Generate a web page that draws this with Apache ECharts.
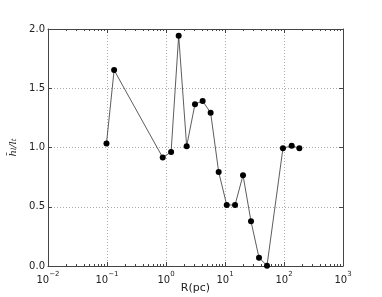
<!DOCTYPE html>
<html>
<head>
<meta charset="utf-8">
<script src="https://cdn.jsdelivr.net/npm/echarts@6/dist/echarts.min.js"></script>
<style>html,body{margin:0;padding:0;background:#fff}#c{width:382px;height:297px}</style>
</head>
<body>
<div id="c"></div>
<script>
// Data
const radiusPc = [0.098, 0.132, 0.88, 1.22, 1.64, 2.24, 3.10, 4.18, 5.71, 7.81, 10.7, 14.8, 20.2, 27.6, 37.7, 51.5, 96, 135, 182];
const ratio    = [1.034, 1.653, 0.915, 0.963, 1.944, 1.011, 1.366, 1.392, 1.293, 0.794, 0.515, 0.515, 0.766, 0.377, 0.070, 0.003, 0.994, 1.014, 0.994];
const xTickExponents = [-2, -1, 0, 1, 2, 3];
const yTicks = [0.0, 0.5, 1.0, 1.5, 2.0];
const xLabel = 'R(pc)';

// minor tick positions on log axis (2..9 within each decade)
const minorTicks = [];
for (let e = -2; e < 3; e++) for (let m = 2; m <= 9; m++) minorTicks.push(m * Math.pow(10, e));

const FONT = 'DejaVu Sans';
const frameColor = '#444';
const chart = echarts.init(document.getElementById('c'), null, {renderer: 'canvas'});

function supLabel(v) {
  const e = Math.round(Math.log10(v));
  const s = e < 0 ? '\u2212' + (-e) : String(e);
  return '{b|10}{s|' + s + '}';
}

chart.setOption({
  animation: false,
  backgroundColor: '#fff',
  grid: {left: 48, right: 39, top: 29, bottom: 31, show: false, outerBoundsMode: 'none', containLabel: false},
  xAxis: [{
    type: 'log', logBase: 10,
    min: Math.pow(10, xTickExponents[0]), max: Math.pow(10, xTickExponents[xTickExponents.length - 1]),
    position: 'bottom',
    name: xLabel, nameLocation: 'middle', nameGap: 17, nameMoveOverlap: false,
    nameTextStyle: {fontFamily: FONT, fontSize: 11, color: '#222'},
    axisLine: {show: true, onZero: false, lineStyle: {color: frameColor, width: 1}},
    axisTick: {show: true, inside: true, length: 4, lineStyle: {color: frameColor}},
    axisLabel: {
      margin: 5, formatter: supLabel,
      rich: {
        b: {fontFamily: FONT, fontSize: 10, color: '#222', verticalAlign: 'bottom'},
        s: {fontFamily: FONT, fontSize: 7, color: '#222', padding: [0, 0, 7, 0], verticalAlign: 'bottom'}
      }
    },
    splitLine: {show: true, lineStyle: {color: '#aaa', type: [1, 2], width: 1}}
  }, {
    type: 'log', logBase: 10,
    min: Math.pow(10, xTickExponents[0]), max: Math.pow(10, xTickExponents[xTickExponents.length - 1]),
    position: 'top',
    axisLine: {show: true, onZero: false, lineStyle: {color: frameColor, width: 1}},
    axisTick: {show: true, inside: true, length: 4, lineStyle: {color: frameColor}},
    axisLabel: {show: false},
    splitLine: {show: false}
  }],
  yAxis: [{
    type: 'value', min: yTicks[0], max: yTicks[yTicks.length - 1], interval: 0.5,
    position: 'left',
    name: '{h|h\u0304}{sub|l}{h|/l}{sub|t}',
    nameLocation: 'middle', nameGap: 30, nameRotate: 90, nameMoveOverlap: false,
    nameTextStyle: {
      rich: {
        h: {fontFamily: 'DejaVu Serif', fontStyle: 'italic', fontSize: 10, color: '#222'},
        sub: {fontFamily: 'DejaVu Serif', fontStyle: 'italic', fontSize: 7, color: '#222', padding: [0, 0, -3, 0]}
      }
    },
    axisLine: {show: true, onZero: false, lineStyle: {color: frameColor, width: 1}},
    axisTick: {show: true, inside: true, length: 4, lineStyle: {color: frameColor}},
    axisLabel: {margin: 3, fontFamily: FONT, fontSize: 10, color: '#222', formatter: v => v.toFixed(1)},
    splitLine: {show: true, lineStyle: {color: '#aaa', type: [1, 2], width: 1}}
  }, {
    type: 'value', min: yTicks[0], max: yTicks[yTicks.length - 1], interval: 0.5,
    position: 'right',
    axisLine: {show: true, onZero: false, lineStyle: {color: frameColor, width: 1}},
    axisTick: {show: true, inside: true, length: 4, lineStyle: {color: frameColor}},
    axisLabel: {show: false},
    splitLine: {show: false}
  }],
  series: [{
    type: 'custom',
    xAxisIndex: 0, yAxisIndex: 0,
    silent: true, clip: false, z: 1,
    data: minorTicks.map(v => [v]),
    renderItem: function (params, api) {
      const v = api.value(0);
      const b = api.coord([v, yTicks[0]]);
      const t = api.coord([v, yTicks[yTicks.length - 1]]);
      const st = {stroke: frameColor, lineWidth: 1};
      return {type: 'group', children: [
        {type: 'line', shape: {x1: Math.round(b[0]) + 0.5, y1: b[1], x2: Math.round(b[0]) + 0.5, y2: b[1] - 2}, style: st},
        {type: 'line', shape: {x1: Math.round(t[0]) + 0.5, y1: t[1], x2: Math.round(t[0]) + 0.5, y2: t[1] + 2}, style: st}
      ]};
    }
  }, {
    type: 'line',
    xAxisIndex: 0, yAxisIndex: 0,
    data: radiusPc.map((r, i) => [r, ratio[i]]),
    symbol: 'circle', symbolSize: 6,
    lineStyle: {color: '#333', width: 0.8},
    itemStyle: {color: '#000'},
    clip: false, z: 3
  }]
});
</script>
</body>
</html>
